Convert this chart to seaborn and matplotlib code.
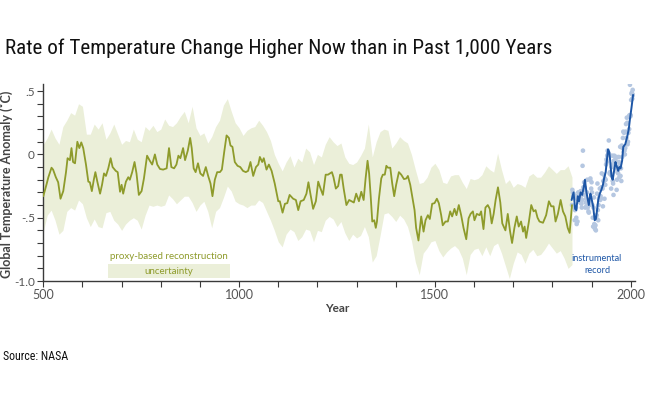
import matplotlib
matplotlib.use("Agg")
import matplotlib.pyplot as plt
from matplotlib import font_manager
from matplotlib.patches import Rectangle
from matplotlib.ticker import MultipleLocator, FuncFormatter
import seaborn as sns

# proxy-based reconstruction (smoothed)
proxy_year = [500, 508, 513, 521, 525, 532, 538, 544, 551, 558, 562, 568, 572, 576, 581, 587, 592, 597,
              602, 609, 615, 619, 624, 629, 633, 638, 645, 650, 655, 660, 666, 672, 677, 685, 690, 696,
              700, 704, 711, 717, 721, 727, 733, 738, 744, 751, 757, 765, 772, 778, 785, 791, 798,
              806, 815, 821, 827, 834, 840, 845, 850, 857, 862, 869, 875, 879, 884, 889, 895,
              901, 908, 915, 921, 927, 932, 938, 944, 951, 956, 962, 968, 974, 978, 983, 989, 996,
              1003, 1010, 1017, 1023, 1029, 1036, 1043, 1049, 1053, 1059, 1063, 1070, 1076, 1083, 1091,
              1100, 1104, 1111, 1117, 1123, 1129, 1138, 1145, 1151, 1157, 1165, 1172, 1177, 1182, 1189, 1196,
              1202, 1208, 1214, 1221, 1227, 1237, 1241, 1247, 1253, 1258, 1262, 1267, 1274, 1281, 1287, 1293, 1299,
              1306, 1312, 1318, 1323, 1328, 1332, 1336, 1340, 1345, 1349, 1352, 1357, 1363, 1367, 1372, 1376,
              1380, 1386, 1391, 1396, 1401, 1408, 1414, 1421, 1427, 1431, 1437, 1442, 1448, 1452, 1458,
              1465, 1471, 1476, 1482, 1487, 1493, 1499, 1505, 1510, 1516, 1520, 1527, 1533, 1539, 1544,
              1550, 1555, 1561, 1567, 1573, 1580, 1586, 1591, 1597, 1601, 1607, 1614, 1618, 1624, 1629,
              1635, 1640, 1645, 1650, 1655, 1661, 1667, 1672, 1680, 1686, 1692, 1697, 1703, 1709, 1714,
              1720, 1725, 1729, 1733, 1740, 1746, 1752, 1757, 1762, 1767, 1776, 1784, 1791, 1797,
              1803, 1808, 1814, 1821, 1827, 1833, 1839, 1844, 1850]
proxy_temp = [-0.33, -0.24, -0.18, -0.105, -0.12, -0.18, -0.22, -0.35, -0.29, -0.14, -0.03, -0.045, 0.05, -0.06, -0.07, 0.10, 0.05, 0.095,
              0.05, -0.08, -0.215, -0.22, -0.29, -0.20, -0.14, -0.215, -0.31, -0.24, -0.15, -0.17, -0.11, -0.03, -0.10, -0.13, -0.14, -0.295,
              -0.24, -0.31, -0.215, -0.18, -0.20, -0.14, -0.06, -0.15, -0.32, -0.29, -0.19, -0.01, -0.05, -0.08, 0.0, -0.08, -0.115,
              -0.12, -0.11, 0.05, -0.10, -0.11, -0.08, -0.01, -0.03, 0.05, -0.045, 0.03, 0.13, 0.05, -0.11, -0.14, -0.07,
              -0.15, -0.17, -0.10, -0.17, -0.23, -0.33, -0.20, -0.14, -0.14, -0.12, 0.02, 0.15, 0.13, 0.07, 0.06, -0.06, -0.09,
              -0.10, -0.13, -0.14, -0.13, -0.06, -0.17, -0.10, -0.08, -0.02, -0.06, -0.03, -0.12, -0.08, -0.13, -0.23,
              -0.37, -0.37, -0.46, -0.39, -0.385, -0.32, -0.35, -0.36, -0.44, -0.37, -0.36, -0.31, -0.22, -0.31, -0.43, -0.37,
              -0.215, -0.27, -0.32, -0.16, -0.16, -0.14, -0.18, -0.27, -0.25, -0.16, -0.16, -0.27, -0.40, -0.36, -0.37, -0.38, -0.31,
              -0.37, -0.295, -0.36, -0.19, -0.05, -0.15, -0.33, -0.53, -0.52, -0.58, -0.53, -0.35, -0.19, -0.16, -0.16, -0.09,
              -0.105, -0.105, -0.23, -0.33, -0.24, -0.14, -0.16, -0.195, -0.19, -0.17, -0.24, -0.33, -0.44, -0.58, -0.68,
              -0.49, -0.61, -0.52, -0.48, -0.51, -0.39, -0.385, -0.35, -0.385, -0.48, -0.56, -0.53, -0.53, -0.45, -0.49,
              -0.43, -0.48, -0.40, -0.48, -0.58, -0.67, -0.505, -0.47, -0.45, -0.52, -0.47, -0.48, -0.45, -0.59, -0.42,
              -0.40, -0.43, -0.545, -0.47, -0.36, -0.26, -0.38, -0.545, -0.60, -0.47, -0.61, -0.70, -0.58, -0.49, -0.57,
              -0.53, -0.61, -0.57, -0.66, -0.53, -0.40, -0.45, -0.44, -0.50, -0.53, -0.54, -0.48, -0.37, -0.41,
              -0.41, -0.53, -0.47, -0.36, -0.45, -0.49, -0.58, -0.62, -0.40]

# uncertainty band, every 10 years from 500 to 1850
band_year = list(range(500, 1851, 10))
band_hi = [0.08, 0.13, 0.20, 0.13, 0.08, 0.22, 0.27, 0.33, 0.31, 0.40,
           0.38, 0.16, 0.16, 0.24, 0.20, 0.25, 0.12, 0.17, 0.24, 0.16,
           0.08, 0.11, 0.10, 0.20, 0.12, 0.10, 0.22, 0.19, 0.23, 0.18,
           0.20, 0.28, 0.23, 0.22, 0.25, 0.30, 0.34, 0.25, 0.38, 0.21,
           0.15, 0.17, 0.09, 0.14, 0.22, 0.27, 0.39, 0.44, 0.34, 0.25,
           0.21, 0.15, 0.19, 0.21, 0.22, 0.27, 0.23, 0.18, 0.11, 0.00,
           -0.07, -0.13, -0.06, -0.01, -0.10, -0.03, -0.06, 0.05, 0.02, -0.08,
           0.00, -0.02, 0.08, 0.14, 0.10, 0.07, 0.09, -0.02, -0.07, -0.08,
           -0.06, -0.01, 0.05, 0.24, -0.02, 0.10, 0.18, 0.20, 0.19, 0.05,
           0.09, 0.14, 0.11, 0.09, 0.00, -0.12, -0.23, -0.22, -0.18, -0.10,
           -0.07, -0.12, -0.22, -0.23, -0.17, -0.16, -0.16, -0.22, -0.27, -0.19,
           -0.20, -0.19, -0.16, -0.09, -0.12, -0.14, 0.01, -0.12, -0.23, -0.20,
           -0.26, -0.23, -0.24, -0.26, -0.17, -0.15, -0.18, -0.18, -0.14, -0.09,
           -0.12, -0.15, -0.12, -0.12, -0.09, -0.18]
band_lo = [-0.61, -0.48, -0.44, -0.52, -0.63, -0.60, -0.45, -0.42, -0.44, -0.36,
           -0.39, -0.50, -0.57, -0.51, -0.57, -0.58, -0.46, -0.45, -0.52, -0.55,
           -0.60, -0.55, -0.52, -0.50, -0.52, -0.59, -0.48, -0.40, -0.41, -0.40,
           -0.41, -0.40, -0.32, -0.35, -0.39, -0.36, -0.33, -0.33, -0.38, -0.45,
           -0.40, -0.37, -0.45, -0.58, -0.45, -0.42, -0.34, -0.25, -0.29, -0.37,
           -0.39, -0.40, -0.42, -0.40, -0.40, -0.36, -0.38, -0.45, -0.52, -0.60,
           -0.69, -0.73, -0.63, -0.59, -0.61, -0.68, -0.65, -0.59, -0.60, -0.69,
           -0.60, -0.61, -0.52, -0.49, -0.51, -0.57, -0.53, -0.62, -0.68, -0.63,
           -0.66, -0.64, -0.57, -0.65, -0.85, -0.80, -0.64, -0.47, -0.46, -0.49,
           -0.53, -0.48, -0.51, -0.57, -0.68, -0.85, -0.95, -0.78, -0.74, -0.69,
           -0.68, -0.76, -0.81, -0.77, -0.74, -0.72, -0.75, -0.82, -0.95, -0.79,
           -0.75, -0.74, -0.80, -0.73, -0.80, -0.72, -0.70, -0.78, -0.88, -0.98,
           -0.86, -0.77, -0.79, -0.86, -0.78, -0.75, -0.80, -0.79, -0.75, -0.70,
           -0.74, -0.78, -0.76, -0.82, -0.90, -0.87]

# instrumental record: annual values (dots) 1850-2006
inst_year = list(range(1850, 2007))
inst_annual = [-0.40, -0.28, -0.30, -0.33, -0.31, -0.34, -0.42, -0.52, -0.44, -0.33,
               -0.42, -0.50, -0.55, -0.35, -0.53, -0.33, -0.30, -0.35, -0.32, -0.33,
               -0.34, -0.38, -0.29, -0.33, -0.39, -0.42, -0.36, -0.09, 0.03, -0.26,
               -0.28, -0.22, -0.26, -0.32, -0.42, -0.38, -0.35, -0.41, -0.30, -0.20,
               -0.42, -0.36, -0.45, -0.46, -0.40, -0.38, -0.20, -0.19, -0.38, -0.27,
               -0.22, -0.30, -0.40, -0.50, -0.57, -0.42, -0.34, -0.55, -0.58, -0.59,
               -0.56, -0.60, -0.50, -0.48, -0.31, -0.23, -0.44, -0.52, -0.40, -0.35,
               -0.34, -0.27, -0.36, -0.33, -0.35, -0.26, -0.15, -0.26, -0.27, -0.41,
               -0.21, -0.16, -0.21, -0.35, -0.19, -0.24, -0.20, -0.08, -0.04, -0.06,
               -0.01, 0.03, 0.00, 0.01, 0.11, 0.00, -0.15, -0.14, -0.15, -0.16,
               -0.27, -0.10, -0.08, -0.01, -0.21, -0.23, -0.32, -0.05, -0.01, -0.05,
               -0.11, -0.04, -0.06, -0.02, -0.28, -0.20, -0.14, -0.12, -0.15, -0.02,
               -0.06, -0.18, -0.09, 0.06, -0.17, -0.11, -0.21, 0.07, -0.02, 0.05,
               0.13, 0.18, 0.02, 0.17, 0.03, 0.00, 0.05, 0.18, 0.24, 0.13,
               0.29, 0.25, 0.08, 0.10, 0.17, 0.30, 0.20, 0.31, 0.55, 0.30,
               0.31, 0.43, 0.48, 0.49, 0.44, 0.51, 0.47]

# instrumental record, smoothed line
smooth_year = [1849, 1854, 1858, 1861, 1865, 1868, 1872, 1876, 1880, 1883, 1887, 1890, 1893, 1897,
               1900, 1904, 1908, 1911, 1914, 1917, 1921, 1925, 1929, 1932, 1936, 1939, 1942, 1945,
               1947, 1951, 1954, 1957, 1961, 1964, 1968, 1971, 1974, 1978, 1981, 1986, 1991, 1995,
               1998, 2002, 2006]
smooth_temp = [-0.36, -0.30, -0.43, -0.44, -0.33, -0.37, -0.30, -0.32, -0.26, -0.20, -0.30, -0.35, -0.40, -0.31,
               -0.35, -0.41, -0.52, -0.51, -0.44, -0.36, -0.31, -0.28, -0.24, -0.19, -0.14, -0.05, 0.04, 0.02,
               -0.03, -0.18, -0.20, -0.14, -0.06, -0.09, -0.13, -0.10, -0.11, -0.05, 0.06, 0.08, 0.14, 0.20,
               0.28, 0.37, 0.47]

title = "Rate of Temperature Change Higher Now than in Past 1,000 Years"
source = "Source: NASA"

OLIVE = "#8e9b2b"
BAND = "#ebefd9"
BLUE = "#1d56a6"
DOTS = "#b5c7e1"
AXIS = "#3a3a3a"

sns.set_style("ticks")
installed = {f.name for f in font_manager.fontManager.ttflist}
narrow = "Roboto"
for cand in ("Roboto Condensed", "Liberation Sans Narrow", "DejaVu Sans Condensed", "Open Sans Condensed"):
    if cand in installed:
        narrow = cand
        break
plt.rcParams["font.family"] = ["Lato", "DejaVu Sans"]

fig = plt.figure(figsize=(6.48, 3.94), dpi=100)
ax = fig.add_axes([0.0668, 0.2868, 0.9132, 0.5012])

ax.fill_between(band_year, band_lo, band_hi, color=BAND, lw=0, zorder=1)
sns.scatterplot(x=inst_year, y=inst_annual, ax=ax, color=DOTS, s=11, edgecolor="none",
                zorder=2, legend=False)
sns.lineplot(x=proxy_year, y=proxy_temp, ax=ax, color=OLIVE, lw=1.3, estimator=None, zorder=3)
sns.lineplot(x=smooth_year, y=smooth_temp, ax=ax, color=BLUE, lw=1.4, estimator=None, zorder=4)

ax.set_xlim(500, 2011)
ax.set_ylim(-1.0, 0.56)
ax.xaxis.set_major_locator(MultipleLocator(500))
ax.xaxis.set_minor_locator(MultipleLocator(100))
ax.yaxis.set_major_locator(MultipleLocator(0.5))
ax.yaxis.set_minor_locator(MultipleLocator(0.1))


def ylab(v, pos):
    if abs(v) < 1e-9:
        return "0"
    if abs(v + 1.0) < 1e-9:
        return "-1.0"
    return f"{v:.1f}".replace("0.", ".")


ax.yaxis.set_major_formatter(FuncFormatter(ylab))
ax.tick_params(which="both", direction="out", length=4, width=0.8, color=AXIS,
               labelsize=9, labelcolor="#555555", pad=2)
ax.tick_params(axis="y", labelsize=8.5)
sns.despine(ax=ax)
for side in ("left", "bottom"):
    ax.spines[side].set_color(AXIS)
    ax.spines[side].set_linewidth(1.0)

ax.set_xlabel("Year", fontsize=8.5, fontweight="bold", color="#444444")
ax.xaxis.set_label_coords(0.496, -0.11)
ax.set_ylabel("Global Temperature Anomaly (˚C)", fontsize=9, fontweight="bold", color="#444444")
ax.yaxis.set_label_coords(-0.052, 0.49)

# legend-style annotations
ax.add_patch(Rectangle((665, -0.976), 312, 0.11, color=BAND, lw=0, zorder=1))
ax.text(820, -0.81, "proxy-based reconstruction", color=OLIVE, fontsize=7,
        ha="center", va="center", zorder=5)
ax.text(820, -0.922, "uncertainty", color=OLIVE, fontsize=7, ha="center", va="center", zorder=5)
ax.text(1914, -0.82, "instrumental", color=BLUE, fontsize=6.6, ha="center", va="center")
ax.text(1914, -0.915, "record", color=BLUE, fontsize=6.6, ha="center", va="center")

t = fig.text(0.008, 0.862, title, family=narrow, fontsize=16, color="#111111",
             ha="left", va="baseline")
s = fig.text(0.004, 0.087, source, family=narrow, fontsize=10, color="#111111",
             ha="left", va="baseline")

# squeeze the title/source to the reference widths if only a wide face is available
renderer = fig.canvas.get_renderer()
tw = t.get_window_extent(renderer).width
if tw > 550:
    t.set_fontsize(16 * 548 / tw)
sw = s.get_window_extent(renderer).width
if sw > 66:
    s.set_fontsize(10 * 65 / sw)

fig.savefig("out.png", dpi=100)
